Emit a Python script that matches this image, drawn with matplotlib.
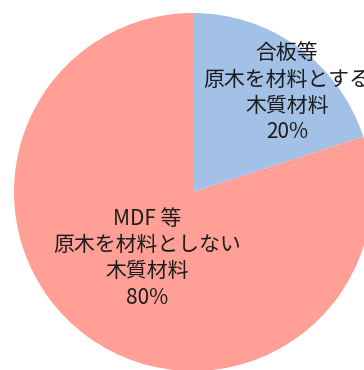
import matplotlib.pyplot as plt

plt.rcParams['font.family'] = ['Noto Sans CJK JP', 'DejaVu Sans']

labels = ['合板等\n原木を材料とする\n木質材料', 'MDF 等\n原木を材料としない\n木質材料']
shares = [20, 80]
colors = ['#a3c0e6', '#ff9f96']
# label anchor points inside each wedge (pie radius = 1)
label_xy = [(0.525, 0.555), (-0.257, -0.37)]

fig = plt.figure(figsize=(3.64, 3.70), dpi=100)
ax = fig.add_axes([0, 0, 1, 1])
ax.pie(shares, colors=colors, startangle=90, counterclock=False,
       radius=1, wedgeprops=dict(linewidth=0))

for lab, v, (x, y) in zip(labels, shares, label_xy):
    ax.text(x, y, f'{lab}\n{v}%', ha='center', va='center',
            fontsize=15, color='#1c1c1c', linespacing=1.25)

r = 179.0
ax.set_xlim(-193 / r, (364 - 193) / r)
ax.set_ylim(-(370 - 192) / r, 192 / r)
ax.set_aspect('auto')
ax.axis('off')

fig.savefig('out.png', dpi=100)
